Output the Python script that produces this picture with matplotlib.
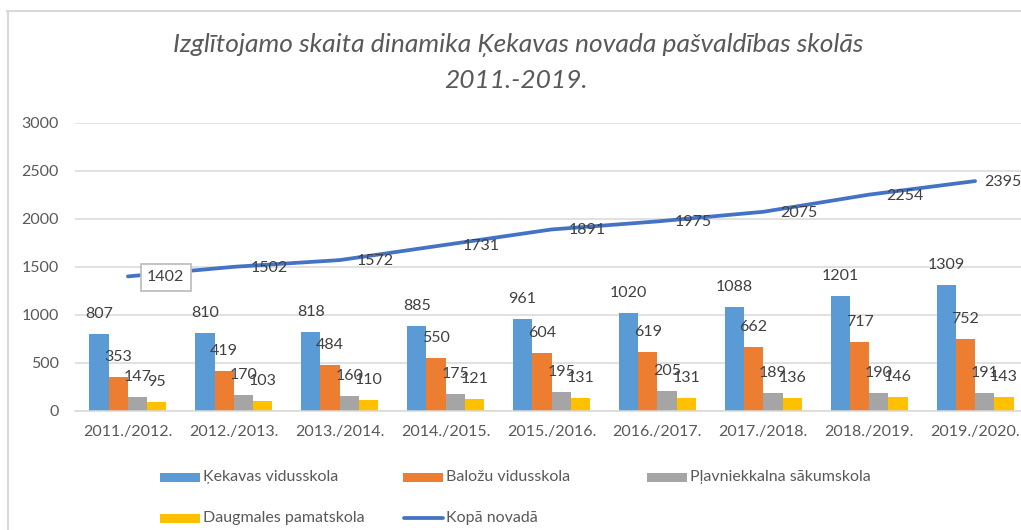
import matplotlib
matplotlib.use('Agg')
import matplotlib.pyplot as plt
import numpy as np
from matplotlib.patches import Rectangle
from matplotlib.lines import Line2D

# ---------------- data ----------------
categories = ["2011./2012.", "2012./2013.", "2013./2014.", "2014./2015.", "2015./2016.",
              "2016./2017.", "2017./2018.", "2018./2019.", "2019./2020."]
kekavas = [807, 810, 818, 885, 961, 1020, 1088, 1201, 1309]
balozu = [353, 419, 484, 550, 604, 619, 662, 717, 752]
plavniekkalna = [147, 170, 160, 175, 195, 205, 189, 190, 191]
daugmales = [95, 103, 110, 121, 131, 131, 136, 146, 143]
kopa = [1402, 1502, 1572, 1731, 1891, 1975, 2075, 2254, 2395]

series_names = ["Ķekavas vidusskola", "Baložu vidusskola", "Pļavniekkalna sākumskola",
                "Daugmales pamatskola"]
line_name = "Kopā novadā"
title_line1 = "Izglītojamo skaita dinamika Ķekavas novada pašvaldības skolās"
title_line2 = "2011.-2019."

colors = ["#5B9BD5", "#ED7D31", "#A5A5A5", "#FFC000"]
line_color = "#4472C4"

# ---------------- figure ----------------
plt.rcParams['font.family'] = ['Lato', 'DejaVu Sans']
W, H = 1021, 530
fig = plt.figure(figsize=(W / 100, H / 100), dpi=100)


def fx(px):
    return px / W


def fy(py):
    return 1 - py / H


PT = 0.72  # points per pixel at 100 dpi

ax = fig.add_axes([fx(75), fy(411), fx(1028) - fx(75), fy(123) - fy(411)])
x = np.arange(len(categories))
bw = 0.182
all_series = [kekavas, balozu, plavniekkalna, daugmales]
for i, (vals, col) in enumerate(zip(all_series, colors)):
    pos = x + (i - 1.5) * bw
    ax.bar(pos, vals, bw, color=col, zorder=2)
    for p, v in zip(pos, vals):
        ax.annotate(str(v), (p, v), xytext=(0, 20 * PT), textcoords='offset points',
                    ha='center', va='center', fontsize=11.5, color='#404040', zorder=5)

ax.plot(x, kopa, color=line_color, lw=2.7, zorder=3, solid_capstyle='round')
for i, v in enumerate(kopa):
    off = 9 if i == len(kopa) - 1 else 17
    kw = {}
    if i == 0:
        kw['bbox'] = dict(boxstyle='square,pad=0.4', fc='white', ec='#BFBFBF', lw=1.3)
        off = 19
    ax.annotate(str(v), (i, v), xytext=(off * PT, -1 * PT), textcoords='offset points',
                ha='left', va='center', fontsize=11.5, color='#404040', zorder=6,
                annotation_clip=False, **kw)

ax.set_xlim(-0.5, len(categories) - 0.5)
ax.set_ylim(0, 3000)
ax.set_yticks(range(0, 3001, 500))
ax.set_xticks(x)
ax.set_xticklabels(categories)
ax.grid(axis='y', color='#D9D9D9', lw=1.1, zorder=0)
ax.set_axisbelow(True)
for s in ['top', 'right', 'left']:
    ax.spines[s].set_visible(False)
ax.spines['bottom'].set_color('#D9D9D9')
ax.spines['bottom'].set_linewidth(1.1)
ax.tick_params(length=0, labelsize=11.5, colors='#595959')
ax.tick_params(axis='y', pad=16 * PT)
ax.tick_params(axis='x', pad=14 * PT)

# ---------------- title ----------------
fig.text(fx(518), fy(45), title_line1, ha='center', va='center', fontsize=19,
         style='italic', color='#595959')
fig.text(fx(516), fy(81), title_line2, ha='center', va='center', fontsize=19,
         style='italic', color='#595959')

# ---------------- chart border ----------------
fig.add_artist(Line2D([fx(7.5), fx(7.5)], [fy(11), fy(H + 5)], color='#D9D9D9', lw=1.5))
fig.add_artist(Line2D([fx(7), fx(W + 5)], [fy(11), fy(11)], color='#D9D9D9', lw=1.5))

# ---------------- legend (manual, equal column widths) ----------------
col_x = [160, 403, 647]
row_y = [477, 518]
legend_items = [(0, 0, 'bar', colors[0], series_names[0]),
                (1, 0, 'bar', colors[1], series_names[1]),
                (2, 0, 'bar', colors[2], series_names[2]),
                (0, 1, 'bar', colors[3], series_names[3]),
                (1, 1, 'line', line_color, line_name)]
for c, r, kind, col, lab in legend_items:
    x0 = col_x[c]
    y0 = row_y[r]
    if kind == 'bar':
        fig.add_artist(Rectangle((fx(x0), fy(y0 + 4.5)), fx(40), 9 / H, color=col, lw=0))
    else:
        fig.add_artist(Line2D([fx(x0 + 1), fx(x0 + 40)], [fy(y0), fy(y0)], color=col, lw=2.7,
                              solid_capstyle='round'))
    fig.text(fx(x0 + 43), fy(y0), lab, ha='left', va='center', fontsize=11.5, color='#595959')

fig.savefig('out.png', dpi=100)
